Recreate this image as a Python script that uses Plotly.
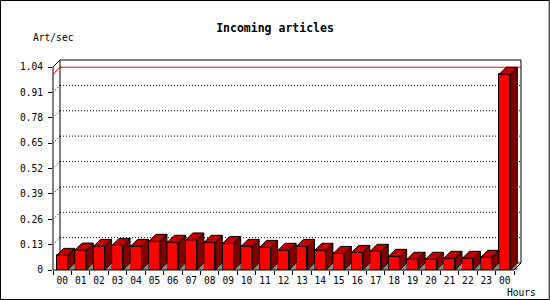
import plotly.graph_objects as go

# ---- data ----
hours = ["00", "01", "02", "03", "04", "05", "06", "07", "08", "09", "10", "11",
         "12", "13", "14", "15", "16", "17", "18", "19", "20", "21", "22", "23", "00"]
art_per_sec = [0.075, 0.102, 0.121, 0.126, 0.121, 0.147, 0.142, 0.154, 0.142, 0.136,
               0.121, 0.116, 0.101, 0.121, 0.101, 0.085, 0.090, 0.096, 0.070, 0.055,
               0.055, 0.060, 0.060, 0.065, 1.003]
y_tick_vals = [0, 0.13, 0.26, 0.39, 0.52, 0.65, 0.78, 0.91, 1.04]
y_tick_text = ["0", "0.13", "0.26", "0.39", "0.52", "0.65", "0.78", "0.91", "1.04"]

# ---- geometry ----
W, H = 550, 300
L, T, B = 53, 60, 30
SLOT = 18.45          # px per category (front plane)
DEPTH = 7             # px 3D offset
FRONT_H = 203         # px for y range 0..1.04 (front plane)
n = len(hours)
plot_w = SLOT * n + DEPTH
plot_h = FRONT_H + DEPTH
R = W - L - plot_w
ymax = y_tick_vals[-1]
dx = DEPTH / SLOT
dy = DEPTH * ymax / FRONT_H
xr = [-0.5, n - 0.5 + dx]
yr = [0, ymax + dy]
hw = 0.3

xs = list(range(n))

def pxx(x):
    return (x - xr[0]) / (xr[1] - xr[0])

def pyy(y):
    return (y - yr[0]) / (yr[1] - yr[0])

fig = go.Figure()

# shadows
shx, shy = [], []
for i, v in zip(xs, art_per_sec):
    shx += [i + hw, i + hw + dx, i + hw + dx, i + hw, None]
    shy += [0, dy, 0, 0, None]
fig.add_trace(go.Scatter(x=shx, y=shy, mode="lines", fill="toself",
                         fillcolor="#8c8c8c", line=dict(width=0, color="#8c8c8c"),
                         hoverinfo="skip", showlegend=False))

# side faces
sx, sy = [], []
for i, v in zip(xs, art_per_sec):
    sx += [i + hw, i + hw + dx, i + hw + dx, i + hw, i + hw, None]
    sy += [0, dy, v + dy, v, 0, None]
fig.add_trace(go.Scatter(x=sx, y=sy, mode="lines", fill="toself",
                         fillcolor="#800000", line=dict(width=1, color="black"),
                         hoverinfo="skip", showlegend=False))

# top faces
tx, ty = [], []
for i, v in zip(xs, art_per_sec):
    tx += [i - hw, i - hw + dx, i + hw + dx, i + hw, i - hw, None]
    ty += [v, v + dy, v + dy, v, v, None]
fig.add_trace(go.Scatter(x=tx, y=ty, mode="lines", fill="toself",
                         fillcolor="#c00000", line=dict(width=1, color="black"),
                         hoverinfo="skip", showlegend=False))

# front faces
fig.add_trace(go.Bar(x=xs, y=art_per_sec, width=2 * hw,
                     marker=dict(color="#ff0000", line=dict(color="black", width=1)),
                     hoverinfo="skip", showlegend=False))

shapes = []
# dotted grid on back wall + side-wall diagonals
for v in y_tick_vals[1:-1]:
    shapes.append(dict(type="line", xref="x", yref="y", layer="below",
                       x0=-0.5 + dx, x1=n - 0.5 + dx, y0=v + dy, y1=v + dy,
                       line=dict(color="black", width=1, dash="1px,2px")))
    shapes.append(dict(type="line", xref="x", yref="y", layer="below",
                       x0=-0.5, x1=-0.5 + dx, y0=v, y1=v + dy,
                       line=dict(color="black", width=1, dash="1px,2px")))

# red max line
vmax = max(art_per_sec)
shapes.append(dict(type="path", xref="paper", yref="paper", layer="below",
                   path=f"M{pxx(-0.5)},{pyy(vmax)} L{pxx(-0.5 + dx)},{pyy(vmax + dy)} L{pxx(n - 0.5 + dx)},{pyy(vmax + dy)}",
                   line=dict(color="#ff0000", width=1)))

# back frame
shapes.append(dict(type="path", xref="paper", yref="paper", layer="below",
                   path=f"M{pxx(-0.5 + dx)},{pyy(dy)} L{pxx(-0.5 + dx)},{pyy(ymax + dy)} "
                        f"L{pxx(n - 0.5 + dx)},{pyy(ymax + dy)} L{pxx(n - 0.5 + dx)},{pyy(dy)} Z",
                   line=dict(color="black", width=1)))
# front axes
shapes.append(dict(type="path", xref="paper", yref="paper", layer="above",
                   path=f"M{pxx(-0.5 + dx)},{pyy(ymax + dy)} L{pxx(-0.5)},{pyy(ymax)} "
                        f"L{pxx(-0.5)},{pyy(0)} L{pxx(n - 0.5)},{pyy(0)} L{pxx(n - 0.5 + dx)},{pyy(dy)}",
                   line=dict(color="black", width=1)))

# outer border
shapes.append(dict(type="rect", xref="paper", yref="paper", layer="above",
                   x0=(0.5 - L) / plot_w, x1=(W - 0.5 - L) / plot_w,
                   y0=(H - B - (H - 0.5)) / plot_h, y1=(H - B - 0.5) / plot_h,
                   line=dict(color="black", width=1)))

mono = "DejaVu Sans Mono"
fig.update_layout(
    width=W, height=H,
    margin=dict(l=L, r=R, t=T, b=B, pad=0),
    paper_bgcolor="white", plot_bgcolor="white",
    bargap=0,
    shapes=shapes,
    title=dict(text="<b>Incoming articles</b>", x=0.5, xref="container",
               xanchor="center", y=1 - 27.7 / H, yref="container", yanchor="middle",
               font=dict(family=mono, size=11.5, color="black")),
    annotations=[
        dict(text="Art/sec", xref="paper", yref="paper", x=(31 - L) / plot_w,
             y=(H - B - 37.7) / plot_h, xanchor="left", yanchor="middle", showarrow=False,
             font=dict(family=mono, size=9.6, color="black")),
        dict(text="Hours", xref="paper", yref="paper", x=(505 - L) / plot_w,
             y=(H - B - 292.7) / plot_h, xanchor="left", yanchor="middle", showarrow=False,
             font=dict(family=mono, size=9.6, color="black")),
    ],
    xaxis=dict(range=xr, tickmode="array", tickvals=xs, ticktext=hours, ticks="",
               showgrid=False, zeroline=False, showline=False, ticklabelstandoff=3,
               tickfont=dict(family=mono, size=9.6, color="black"),
               minor=dict(tickmode="array", tickvals=[k - 0.5 for k in range(n + 1)],
                          ticks="outside", ticklen=4, tickcolor="black", tickwidth=1,
                          showgrid=False)),
    yaxis=dict(range=yr, tickmode="array", tickvals=y_tick_vals, ticktext=y_tick_text,
               ticks="outside", ticklen=4, tickcolor="black", tickwidth=1,
               showgrid=False, zeroline=False, showline=False, ticklabelstandoff=3,
               tickfont=dict(family=mono, size=9.6, color="black")),
)

fig.write_html("out.html")
